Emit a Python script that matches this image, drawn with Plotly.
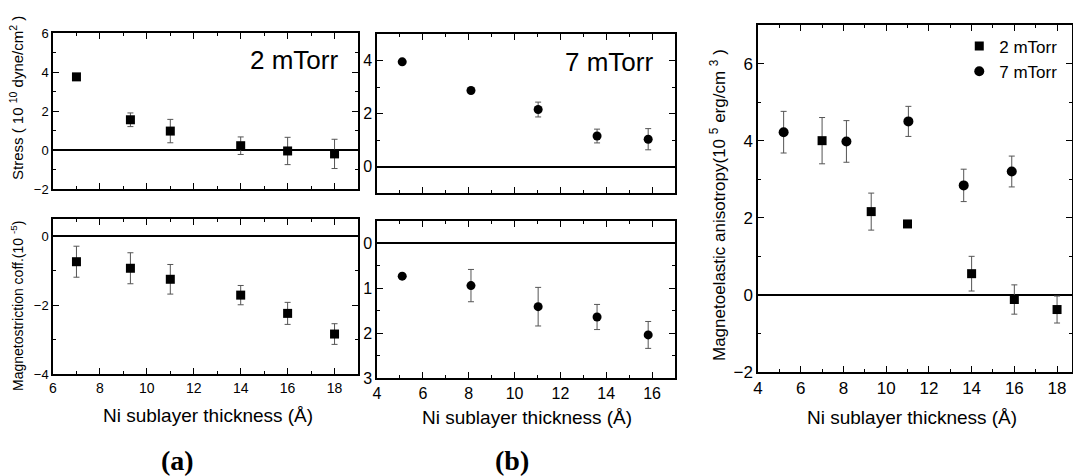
import plotly.graph_objects as go

# ---------------- data ----------------
# Panel (a): 2 mTorr
a_x = [7.0, 9.3, 11.0, 14.0, 16.0, 18.0]
a_stress = [3.75, 1.55, 0.97, 0.22, -0.05, -0.2]
a_stress_err = [0.08, 0.35, 0.6, 0.45, 0.7, 0.75]
a_lambda = [-0.74, -0.93, -1.25, -1.71, -2.24, -2.84]
a_lambda_err = [0.45, 0.45, 0.43, 0.28, 0.32, 0.3]

# Panel (b): 7 mTorr
b_x = [5.1, 8.1, 11.03, 13.6, 15.83]
b_stress = [3.95, 2.87, 2.15, 1.15, 1.03]
b_stress_err = [0.05, 0.05, 0.28, 0.26, 0.4]
b_lambda = [0.73, 0.94, 1.41, 1.64, 2.04]
b_lambda_err = [0.05, 0.36, 0.43, 0.28, 0.3]

# Right panel: magnetoelastic anisotropy
m2_x = [7.0, 9.3, 11.0, 14.0, 16.0, 18.0]
m2_y = [4.0, 2.16, 1.84, 0.55, -0.12, -0.38]
m2_err = [0.6, 0.48, 0.05, 0.45, 0.38, 0.35]
m7_x = [5.2, 8.14, 11.04, 13.63, 15.88]
m7_y = [4.22, 3.98, 4.5, 2.84, 3.2]
m7_err = [0.54, 0.54, 0.39, 0.42, 0.4]

x_title = "Ni sublayer thickness (Å)"

FONT = "Liberation Sans, Arial, sans-serif"

fig = go.Figure()

def err(arr):
    return dict(type="data", array=arr, visible=True, color="#555555",
                thickness=1, width=3)

fig.add_trace(go.Scatter(x=a_x, y=a_stress, error_y=err(a_stress_err), mode="markers",
                         marker=dict(symbol="square", size=9, color="black"),
                         xaxis="x", yaxis="y", showlegend=False))
fig.add_trace(go.Scatter(x=a_x, y=a_lambda, error_y=err(a_lambda_err), mode="markers",
                         marker=dict(symbol="square", size=9, color="black"),
                         xaxis="x2", yaxis="y2", showlegend=False))
fig.add_trace(go.Scatter(x=b_x, y=b_stress, error_y=err(b_stress_err), mode="markers",
                         marker=dict(symbol="circle", size=9, color="black"),
                         xaxis="x3", yaxis="y3", showlegend=False))
fig.add_trace(go.Scatter(x=b_x, y=b_lambda, error_y=err(b_lambda_err), mode="markers",
                         marker=dict(symbol="circle", size=9, color="black"),
                         xaxis="x4", yaxis="y4", showlegend=False))
fig.add_trace(go.Scatter(x=m2_x, y=m2_y, error_y=err(m2_err), mode="markers", name="2 mTorr",
                         marker=dict(symbol="square", size=9, color="black"),
                         xaxis="x5", yaxis="y5"))
fig.add_trace(go.Scatter(x=m7_x, y=m7_y, error_y=err(m7_err), mode="markers", name="7 mTorr",
                         marker=dict(symbol="circle", size=10, color="black"),
                         xaxis="x5", yaxis="y5"))

W, H = 1073, 476

def px_x(a, b):
    return [a / W, b / W]

def px_y(top, bottom):
    return [1 - bottom / H, 1 - top / H]

def axis(domain, rng, dtick, minor, anchor, labels=True, fs=13):
    d = dict(domain=domain, range=rng, dtick=dtick, tick0=0, anchor=anchor,
             showline=True, linecolor="black", linewidth=1.5, mirror="ticks",
             ticks="inside", ticklen=6, tickwidth=1.2, tickcolor="black",
             minor=dict(dtick=minor, ticks="inside", ticklen=3, tickwidth=1, tickcolor="black"),
             showgrid=False, zeroline=False, showticklabels=labels, automargin=False,
             ticklabeloverflow="allow",
             tickfont=dict(family=FONT, size=fs, color="black"))
    return d

layout = dict(
    width=W, height=H, margin=dict(l=0, r=0, t=0, b=0, pad=0, autoexpand=False),
    paper_bgcolor="white", plot_bgcolor="white",
    font=dict(family=FONT, color="black"),
)

layout["xaxis"] = axis(px_x(53, 358), [6, 19], 2, 1, "y", labels=False)
ya = axis(px_y(33, 189), [-2, 6], 2, 1, "x", fs=13)
ya.update(zeroline=True, zerolinecolor="black", zerolinewidth=1.5)
layout["yaxis"] = ya

layout["xaxis2"] = axis(px_x(53, 358), [6, 19], 2, 1, "y2", fs=14)
ya2 = axis(px_y(219, 374), [-4, 0.5], 2, 1, "x2", fs=13)
ya2.update(zeroline=True, zerolinecolor="black", zerolinewidth=1.5)
layout["yaxis2"] = ya2

layout["xaxis3"] = axis(px_x(377, 675), [4, 17], 2, 1, "y3", labels=False)
ya3 = axis(px_y(34, 193), [-1, 5], 2, 1, "x3", fs=16)
ya3.update(zeroline=True, zerolinecolor="black", zerolinewidth=1.5)
layout["yaxis3"] = ya3

layout["xaxis4"] = axis(px_x(377, 675), [4, 17], 2, 1, "y4", fs=16)
ya4 = axis(px_y(221, 378), [3, -0.5], 1, 0.5, "x4", fs=16)
ya4.update(zeroline=True, zerolinecolor="black", zerolinewidth=1.5)
layout["yaxis4"] = ya4

layout["xaxis5"] = axis(px_x(758, 1072), [4, 18.7], 2, 1, "y5", fs=17)
ya5 = axis(px_y(25, 372), [-2, 7], 2, 1, "x5", fs=17)
ya5.update(zeroline=True, zerolinecolor="black", zerolinewidth=1.5)
layout["yaxis5"] = ya5

layout["legend"] = dict(x=0.99, y=0.94, xanchor="right", yanchor="top",
                        bgcolor="rgba(0,0,0,0)", font=dict(family=FONT, size=17, color="black"),
                        itemwidth=30, tracegroupgap=2)

fig.update_layout(**layout)

ann = []
def txt(x, y, s, size, angle=0, family=FONT, xanchor="center"):
    ann.append(dict(x=x / W, y=1 - y / H, xref="paper", yref="paper", text=s,
                    showarrow=False, textangle=angle, xanchor=xanchor, yanchor="middle",
                    font=dict(family=family, size=size, color="black")))

txt(17, 98, "Stress ( 10 <sup>10</sup> dyne/cm<sup>2</sup> )", 15, angle=-90)
txt(17, 306, "Magnetostriction coff.(10 <sup>-5</sup>)", 14, angle=-90)
txt(718, 205, "Magnetoelastic anisotropy(10 <sup>5</sup> erg/cm <sup>3</sup> )", 17, angle=-90)
txt(340, 60, "2 mTorr", 26, xanchor="right")
txt(655, 62, "7 mTorr", 26, xanchor="right")
txt(208, 415, x_title, 19)
txt(527, 417, x_title, 19)
txt(912, 417, x_title, 19)
txt(177, 460, "<b>(a)</b>", 28, family="Liberation Serif, Times New Roman, serif")
txt(512, 460, "<b>(b)</b>", 28, family="Liberation Serif, Times New Roman, serif")
fig.update_layout(annotations=ann)

fig.write_html("out.html", config={"displayModeBar": False},
               post_script="document.body.style.margin='0';")
